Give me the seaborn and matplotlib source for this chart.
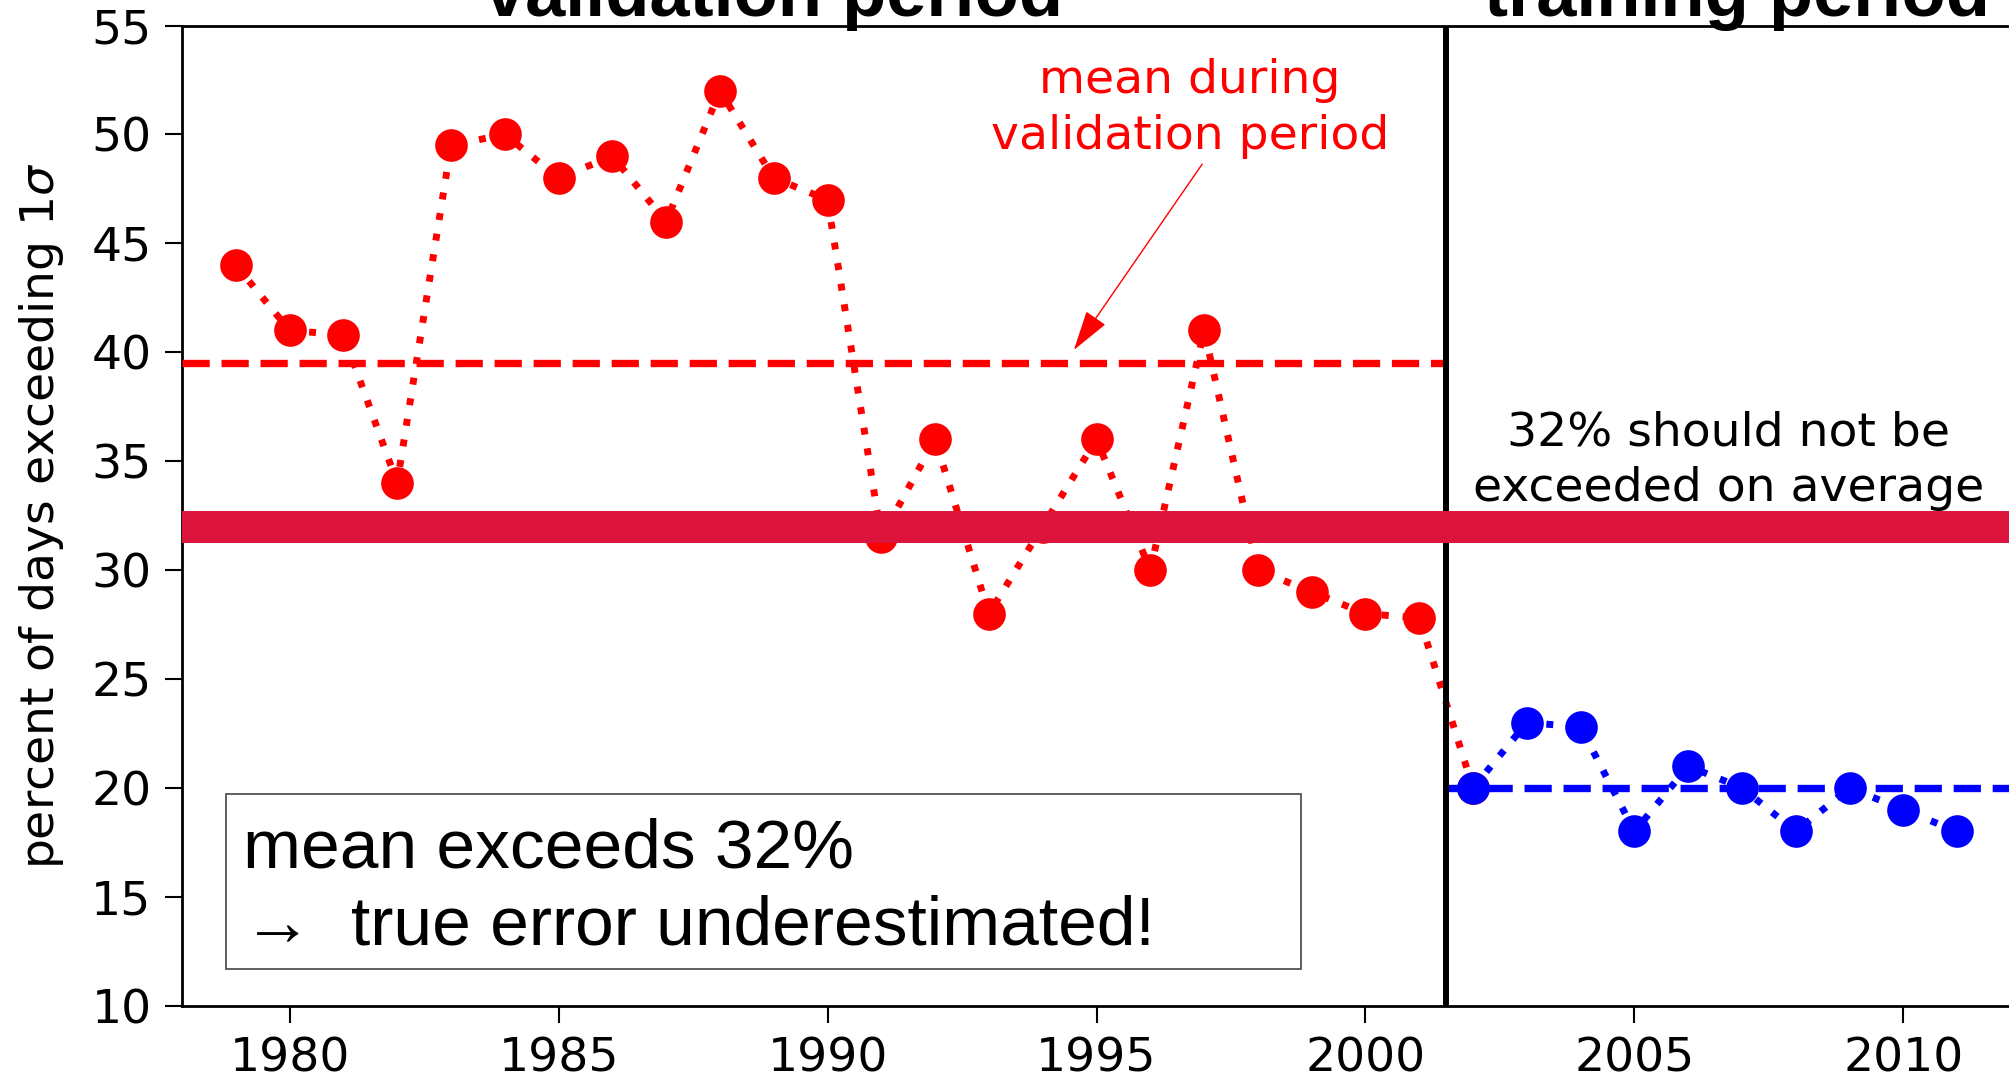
import numpy as np
import matplotlib
matplotlib.use("Agg")
import matplotlib.pyplot as plt
import seaborn as sns
from matplotlib.patches import Rectangle

# percent of days exceeding 1 sigma, per year
val_years = list(range(1979, 2002))
val_pct = [44, 41, 40.8, 34, 49.5, 50, 48, 49, 46, 52, 48, 47,
           31.5, 36, 28, 32, 36, 30, 41, 30, 29, 28, 27.8]
train_years = list(range(2002, 2012))
train_pct = [20, 23, 22.8, 18, 21, 20, 18, 20, 19, 18]

val_mean = 39.5
train_mean = 20
expected = 32
split_year = 2001.5

sns.set_style("ticks")
plt.rcParams["font.family"] = ["DejaVu Sans"]
plt.rcParams["text.color"] = "black"
plt.rcParams["axes.labelcolor"] = "black"
plt.rcParams["xtick.color"] = "black"
plt.rcParams["ytick.color"] = "black"

fig = plt.figure(figsize=(20.09, 10.81), dpi=100)
ax = fig.add_axes([0.0906, 0.0696, 0.9104, 0.9068])

# validation series continues down to the first training point
sns.lineplot(x=val_years + train_years[:1], y=val_pct + train_pct[:1], ax=ax,
             color="red", linestyle=(0, (1, 2.0)), lw=5, marker="o",
             markersize=23.5, markeredgewidth=0, zorder=2)
sns.lineplot(x=train_years, y=train_pct, ax=ax,
             color="blue", linestyle=(0, (1, 2.0)), lw=5, marker="o",
             markersize=23.5, markeredgewidth=0, zorder=2)

ax.hlines(val_mean, 1978, split_year, colors="red", linestyles="--", lw=5.3, zorder=3)
ax.hlines(train_mean, split_year, 2012, colors="blue", linestyles="--", lw=5.3, zorder=3)
ax.axvline(split_year, color="black", lw=4.3, zorder=4)
ax.axhline(expected, color="crimson", lw=23, zorder=5)

ax.set_xlim(1978, 2012)
ax.set_ylim(10, 55)
ax.set_xticks(range(1980, 2011, 5))
ax.set_yticks(range(10, 56, 5))
ax.tick_params(labelsize=34, length=12, width=1.5, pad=10)
ax.set_ylabel(r"percent of days exceeding 1$\sigma$", fontsize=34, labelpad=18)
for s in ax.spines.values():
    s.set_linewidth(2)
    s.set_color("black")

ax.text(1989, 55.45, "validation period", ha="center", va="baseline",
        fontsize=52, fontweight="bold", family=["Liberation Sans", "DejaVu Sans"],
        clip_on=False)
ax.text(2006.9, 55.45, "training period", ha="center", va="baseline",
        fontsize=52, fontweight="bold", family=["Liberation Sans", "DejaVu Sans"],
        clip_on=False)

ax.annotate("mean during\nvalidation period", xy=(1994.55, 40.0), xytext=(1996.74, 51.2),
            ha="center", va="center", color="red", fontsize=34, linespacing=1.3,
            arrowprops=dict(arrowstyle="-|>,head_length=0.75,head_width=0.22",
                            color="red", lw=1, relpos=(0.54, 0.0)), zorder=6)

ax.text(2006.75, 35.0, "32% should not be\nexceeded on average", ha="center", va="center",
        fontsize=34, linespacing=1.3, zorder=6)

ax.add_patch(Rectangle((0.024, 0.038), 0.588, 0.178, transform=ax.transAxes,
                       facecolor="white", edgecolor="#444444", lw=1.2, zorder=7))
ax.text(1979.14, 16.37, "mean exceeds 32%", ha="left", va="baseline", fontsize=50,
        family=["Liberation Sans", "DejaVu Sans"], zorder=8)
ax.text(1979.14, 12.79, "\u2192  true error underestimated!", ha="left", va="baseline",
        fontsize=50, family=["Liberation Sans", "DejaVu Sans"], zorder=8)

fig.savefig("out.png", dpi=100)
